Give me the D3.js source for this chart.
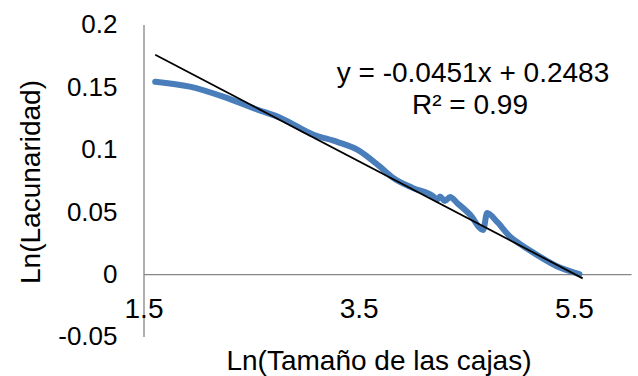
<!DOCTYPE html>
<html>
<head>
<meta charset="utf-8">
<script src="https://cdn.jsdelivr.net/npm/d3@7"></script>
<style>
  body { margin: 0; background: #fff; }
  svg text { font-family: Arial, "Liberation Sans", sans-serif; fill: #000; }
</style>
</head>
<body>
<svg id="chart" width="638" height="376"></svg>
<script>
// data (ln box size vs ln lacunarity)
const lnSize = [1.609, 1.93, 2.24, 2.56, 2.77, 3.08, 3.30, 3.49, 3.70, 3.82, 4.00, 4.19, 4.23, 4.256, 4.30, 4.349, 4.414, 4.537, 4.656, 4.693, 4.786, 4.907, 5.00, 5.123, 5.374, 5.551];
const lnLac  = [0.1542, 0.1502, 0.1422, 0.1317, 0.1253, 0.1116, 0.1060, 0.0996, 0.0859, 0.0771, 0.0691, 0.0625, 0.0598, 0.0622, 0.0586, 0.0618, 0.0570, 0.0474, 0.0353, 0.0490, 0.0418, 0.0300, 0.0240, 0.0172, 0.0050, 0.0];
const trendSlope = -0.0451, trendIntercept = 0.2483;
const xTicks = [1.5, 3.5, 5.5];
const yTicks = [-0.05, 0, 0.05, 0.1, 0.15, 0.2];
const yTickLabels = ['-0.05', '0', '0.05', '0.1', '0.15', '0.2'];

const svg = d3.select('#chart');
const x = d3.scaleLinear().domain([1.5, 6.03]).range([143.5, 631]);
const y = d3.scaleLinear().domain([-0.05, 0.2]).range([336.5, 24.5]);

// y axis
const yAxis = svg.append('g')
  .attr('transform', `translate(${x(1.5)},0)`)
  .call(d3.axisLeft(y).tickValues(yTicks).tickSize(0).tickPadding(26)
    .tickFormat((d, i) => yTickLabels[i]));
yAxis.select('.domain').attr('stroke', '#868686').attr('stroke-width', 1.3);
yAxis.selectAll('text').attr('font-size', 26).attr('font-family', null);

// x axis crosses at y = 0, labels sit lower
const xAxis = svg.append('g')
  .attr('transform', `translate(0,${y(0)})`)
  .call(d3.axisBottom(x).tickValues(xTicks).tickSize(0).tickPadding(24)
    .tickFormat(d3.format('.1f')));
xAxis.select('.domain').attr('stroke', '#868686').attr('stroke-width', 1.3);
xAxis.selectAll('text').attr('font-size', 28).attr('font-family', null);

// data curve
const pts = lnSize.map((v, i) => [v, lnLac[i]]);
svg.append('path')
  .datum(pts)
  .attr('fill', 'none')
  .attr('stroke', '#4a7ebb')
  .attr('stroke-width', 6)
  .attr('stroke-linecap', 'round')
  .attr('stroke-linejoin', 'round')
  .attr('d', d3.line().x(d => x(d[0])).y(d => y(d[1])).curve(d3.curveMonotoneX));

// linear trend line
const tx = d3.extent(lnSize);
svg.append('line')
  .attr('x1', x(tx[0])).attr('y1', y(trendSlope * tx[0] + trendIntercept))
  .attr('x2', x(tx[1] + 0.03)).attr('y2', y(trendSlope * (tx[1] + 0.03) + trendIntercept))
  .attr('stroke', '#000').attr('stroke-width', 1.8);

// trend equation
const eq = svg.append('text').attr('text-anchor', 'middle').attr('font-size', 28);
eq.append('tspan').attr('x', 473).attr('y', 82).text('y = -0.0451x + 0.2483');
eq.append('tspan').attr('x', 470).attr('y', 114).text('R² = 0.99');

// axis titles
svg.append('text')
  .attr('text-anchor', 'middle').attr('font-size', 28)
  .attr('x', 379).attr('y', 370)
  .text('Ln(Tamaño de las cajas)');
svg.append('text')
  .attr('text-anchor', 'middle').attr('font-size', 28)
  .attr('transform', 'translate(40,182) rotate(-90)')
  .text('Ln(Lacunaridad)');
</script>
</body>
</html>
